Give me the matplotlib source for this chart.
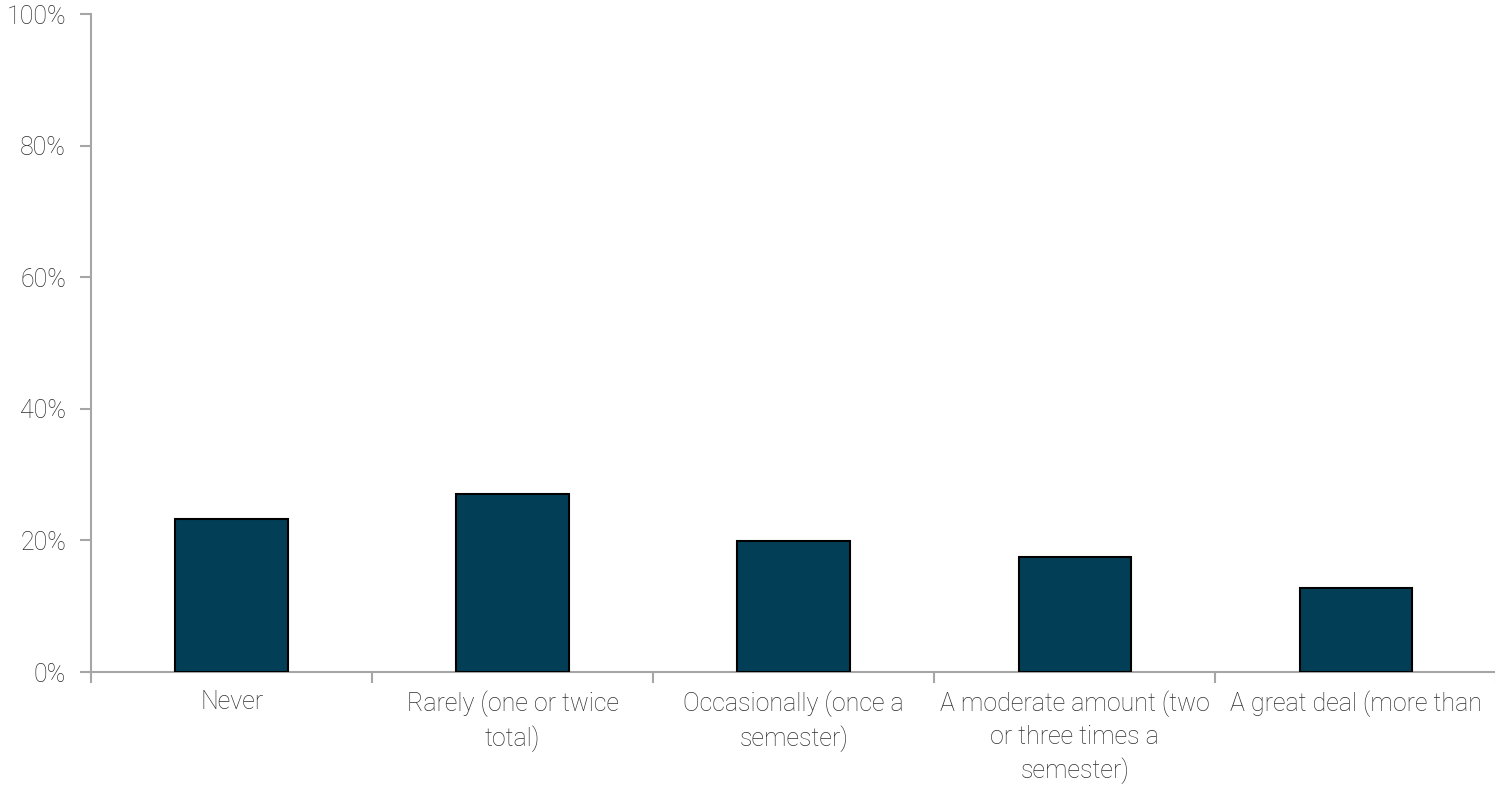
import matplotlib.pyplot as plt
from matplotlib.ticker import FixedLocator, PercentFormatter

categories = [
    "Never",
    "Rarely (one or twice\ntotal)",
    "Occasionally (once a\nsemester)",
    "A moderate amount (two\nor three times a\nsemester)",
    "A great deal (more than",
]
shares = [23.2, 27.0, 19.9, 17.5, 12.8]
y_ticks = [0, 20, 40, 60, 80, 100]

plt.rcParams["font.family"] = ["Roboto", "DejaVu Sans"]
text_color = "#2e2e2e"
axis_color = "#a6a6a6"
label_font = dict(fontsize=18, fontweight="light")

fig = plt.figure(figsize=(14.95, 7.86), dpi=100)
ax = fig.add_axes([0.0609, 0.145, 0.94, 0.837])

x = range(len(categories))
ax.bar(x, shares, width=0.4, color="#023f56", edgecolor="black", linewidth=1.5, zorder=3)

ax.set_xlim(-0.5, len(categories) - 0.5)
ax.set_ylim(0, 100)
ax.set_yticks(y_ticks)
ax.yaxis.set_major_formatter(PercentFormatter(decimals=0))

ax.set_xticks(list(x))
ax.set_xticklabels(categories, color=text_color, linespacing=1.42, **label_font)
ax.xaxis.set_minor_locator(FixedLocator([i - 0.5 for i in range(len(categories) + 1)]))
ax.tick_params(axis="x", which="major", length=0, pad=13)
ax.tick_params(axis="x", which="minor", length=8, width=1.5, color=axis_color)
ax.tick_params(axis="y", length=8, width=1.5, color=axis_color, pad=10, labelcolor=text_color)
for lbl in ax.get_yticklabels():
    lbl.set_fontsize(label_font["fontsize"])
    lbl.set_fontweight(label_font["fontweight"])

for side in ["top", "right"]:
    ax.spines[side].set_visible(False)
for side in ["left", "bottom"]:
    ax.spines[side].set_color(axis_color)
    ax.spines[side].set_linewidth(1.5)

fig.savefig("out.png", dpi=100)
